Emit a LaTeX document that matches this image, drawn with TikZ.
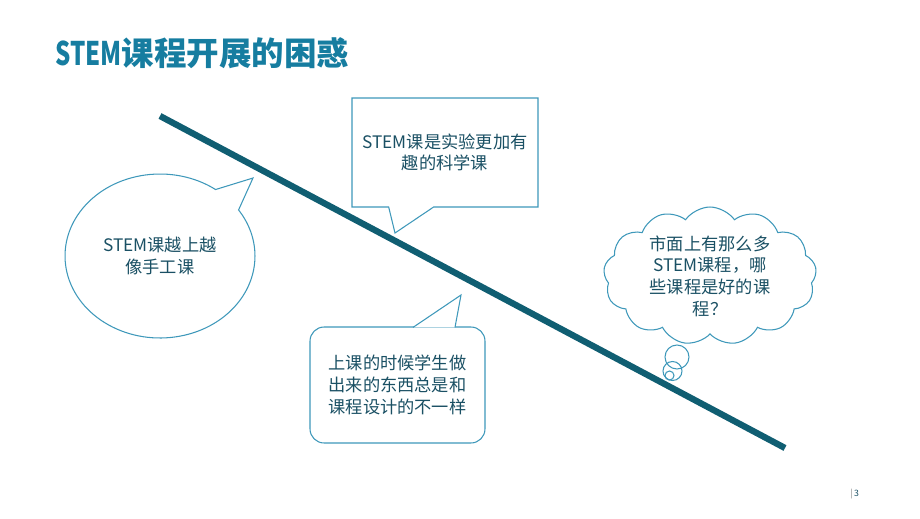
\documentclass[tikz,border=0pt]{standalone}
\usepackage{fontspec}
\setmainfont{Noto Sans CJK SC}
\usetikzlibrary{shapes.callouts,shapes.symbols}
\definecolor{titleblue}{RGB}{22,125,160}
\definecolor{linedark}{RGB}{16,94,114}
\definecolor{edgeblue}{RGB}{62,152,186}
\definecolor{txtblue}{RGB}{26,80,100}

\begin{document}
\begin{tikzpicture}[x=0.02cm,y=-0.02cm,
  bubble/.style={draw=edgeblue,line width=0.6pt,fill=white,text=txtblue,align=center,inner sep=0pt,font=\fontsize{9.8}{12.3}\selectfont},
  tail/.style={draw=edgeblue,line width=0.6pt,fill=white},
  puff/.style={draw=edgeblue,line width=0.6pt}]
  \useasboundingbox (0,0) rectangle (920,518);
  \node[anchor=base west,inner sep=0pt,text=titleblue,font=\fontsize{18.5}{22}\selectfont\bfseries] (title) at (55,65) {\scalebox{0.74}[1]{STEM}课程开展的困惑};
  % the dividing line
  \coordinate (lstart) at (160,116);
  \coordinate (lend) at (785,448);
  \draw[linedark,line width=3.6pt] (lstart) -- (lend);
  % speech bubbles
  \node[bubble,ellipse callout,minimum width=3.8cm,minimum height=3.28cm,callout pointer arc=20,callout absolute pointer={(253,178)}] (q1) at (160,256) {STEM课越上越\\像手工课};
  \node[bubble,rectangle callout,minimum width=3.72cm,minimum height=2.18cm,callout pointer width=0.9cm,callout absolute pointer={(395,233)}] (q2) at (445,152.5) {STEM课是实验更加有\\趣的科学课};
  \node[bubble,rectangle,rounded corners=8pt,minimum width=3.5cm,minimum height=2.32cm] (q3) at (397.5,385) {上课的时候学生做\\出来的东西总是和\\课程设计的不一样};
  \coordinate (t3a) at (413,327.4);
  \coordinate (t3tip) at (461,295);
  \coordinate (t3b) at (455,327.4);
  \fill[white] (t3a) -- (t3tip) -- (t3b) -- cycle;
  \draw[puff] (t3a) -- (t3tip) -- (t3b);
  % thought cloud
  \node[bubble,cloud,cloud puffs=13,cloud puff arc=110,aspect=1.55,minimum width=4.26cm,minimum height=2.76cm] (q4) at (710,276) {市面上有那么多\\STEM课程，哪\\些课程是好的课\\程？};
  \draw[puff] (677,357) circle (0.24cm);
  \draw[puff] (672.5,371) circle (0.19cm);
  \draw[puff] (669.5,375.5) circle (0.09cm);
  % page number
  \node[anchor=base west,inner sep=0pt,font=\fontsize{5}{6}\selectfont,text=txtblue] (page) at (850,496) {\textcolor{gray}{|}\,3};
\end{tikzpicture}
\end{document}
